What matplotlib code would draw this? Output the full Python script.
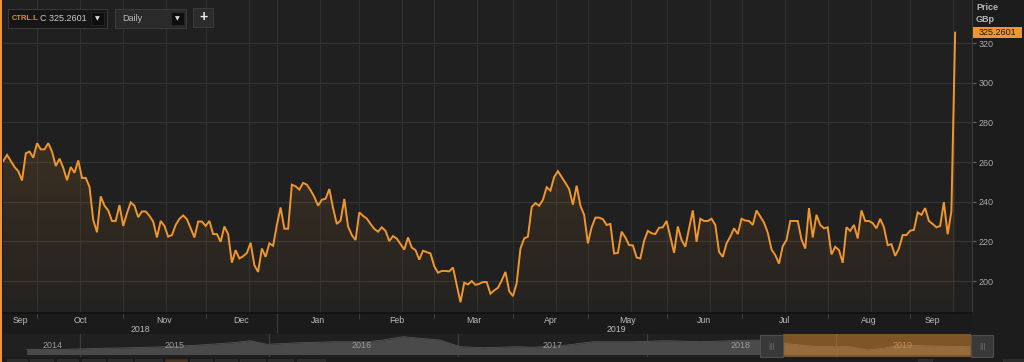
import numpy as np
import matplotlib
matplotlib.use("Agg")
import matplotlib.pyplot as plt
from matplotlib.patches import Rectangle, PathPatch

plt.rcParams['font.family'] = ['Liberation Sans', 'DejaVu Sans']

# ---------------- data ----------------
prices = [
    # Sep 2018
    260.5, 263.6, 260.5, 257.5, 255.4, 250.7, 264.4, 265.3, 262.2,
    # Oct
    269.5, 266.4, 266.4, 269.5, 265.3, 258.0, 261.7, 257.1, 250.8, 257.5, 254.6, 260.8,
    252.0, 252.0, 247.5, 230.8, 224.6, 242.7, 238.0, 235.6, 230.3, 230.3, 238.3,
    # Nov
    227.8, 234.2, 239.7, 238.0, 232.2, 235.1, 235.1, 232.9, 230.0, 222.0, 230.3, 227.8,
    222.4, 223.2, 228.3, 231.4, 233.1, 231.2, 226.6, 222.0, 230.0, 230.0,
    # Dec
    227.8, 230.3, 223.7, 223.7, 219.8, 227.5, 223.7, 209.3, 215.6, 211.4, 212.5, 214.2,
    219.3, 208.0, 204.6, 216.4, 212.2, 219.0, 217.8,
    # Jan 2019
    228.3, 237.1, 226.4, 226.4, 248.6, 247.8, 246.1, 249.5, 248.6, 245.8, 242.4, 238.0,
    241.0, 241.5, 246.4, 236.8, 228.8, 230.5, 241.4, 227.5, 223.2, 220.7,
    # Feb
    234.6, 232.9, 231.5, 228.8, 226.3, 224.9, 227.1, 225.3, 220.2, 222.7, 221.4, 218.6,
    215.9, 222.0, 216.9, 215.6, 210.8, 215.3, 214.6, 213.9,
    # Mar
    207.5, 204.2, 205.1, 205.1, 204.9, 206.8, 198.1, 189.3, 199.2, 198.3, 200.0, 198.1,
    198.6, 199.5, 199.5, 193.6, 195.3, 196.6, 200.3, 204.6, 194.9,
    # Apr
    192.4, 199.0, 216.4, 221.5, 222.4, 237.3, 239.3, 238.0, 241.0, 247.3, 245.6, 252.5,
    255.4, 252.5, 249.5, 246.4, 238.5, 248.1, 238.0, 233.4,
    # May
    219.0, 227.1, 232.0, 232.0, 231.2, 228.3, 228.8, 213.9, 214.2, 224.9, 222.0, 218.1,
    218.0, 211.9, 211.4, 220.3, 225.3, 224.1, 223.7, 226.9, 227.1,
    # Jun
    230.3, 222.4, 214.2, 227.5, 220.7, 217.3, 226.6, 235.6, 219.8, 231.4, 230.3, 230.3,
    231.4, 228.3, 214.7, 212.2, 219.0, 222.4, 226.6, 223.7,
    # Jul
    231.4, 230.5, 230.3, 228.3, 235.6, 232.5, 229.5, 224.4, 215.9, 213.1, 208.8, 217.6,
    220.7, 230.3, 230.3, 230.3, 221.0, 216.4, 236.8, 222.0, 233.4, 228.3, 226.6,
    # Aug
    227.1, 213.4, 217.3, 215.6, 209.2, 227.1, 225.3, 228.3, 221.5, 235.6, 230.3, 230.3,
    229.2, 226.6, 231.4, 227.1, 218.1, 218.6, 212.7, 216.4, 223.2, 223.2,
    # Sep
    225.4, 225.8, 234.6, 233.4, 236.8, 230.3, 228.8, 227.1, 227.8, 239.8, 223.6, 235.1,
    325.2601,
]
month_labels = ['Sep', 'Oct', 'Nov', 'Dec', 'Jan', 'Feb', 'Mar', 'Apr', 'May', 'Jun', 'Jul', 'Aug', 'Sep']
month_starts = [0, 9, 32, 54, 73, 95, 115, 136, 156, 177, 197, 220, 242]  # trading-day index
year_labels = ['2018', '2019']
year_starts = [0, 73]
y_ticks = [200, 220, 240, 260, 280, 300, 320]
last_label = '325.2601'

nav_years = [2014.715, 2014.927, 2015.103, 2015.278, 2015.458, 2015.632, 2015.807, 2015.897,
             2015.987, 2016.161, 2016.336, 2016.516, 2016.601, 2016.706, 2016.796, 2016.902,
             2017.008, 2017.130, 2017.310, 2017.394, 2017.574, 2017.712, 2017.923, 2018.103,
             2018.278, 2018.452, 2018.579, 2018.717, 2018.897, 2019.071, 2019.161, 2019.246,
             2019.336, 2019.511, 2019.706]
nav_values = [7.7, 7.7, 8.7, 9.3, 10.3, 12.0, 14.3, 16.3, 12.7, 14.3, 15.3, 15.3, 17.0, 20.3,
              18.7, 17.0, 10.3, 9.3, 10.3, 9.7, 12.0, 15.3, 15.3, 16.3, 15.3, 16.3, 17.0, 13.7,
              10.3, 10.3, 7.0, 8.7, 12.0, 11.0, 10.3]
nav_year_labels = ['2014', '2015', '2016', '2017', '2018', '2019']
nav_label_pos = [2014.854, 2015.5, 2016.49, 2017.5, 2018.49, 2019.35]

ORANGE = '#f0962f'
W, H = 1024, 362

def fx(x):
    return x / W

def fy(y):
    return 1 - y / H

fig = plt.figure(figsize=(W / 100, H / 100), dpi=100)
fig.patch.set_facecolor('#1c1c1c')

def frect(x0, y0, x1, y1, **kw):
    r = Rectangle((fx(x0), fy(y1)), fx(x1) - fx(x0), fy(y0) - fy(y1),
                  transform=fig.transFigure, **kw)
    fig.add_artist(r)
    return r

# ---------------- main axes ----------------
x = np.arange(len(prices))
ax = fig.add_axes([fx(3), fy(313), fx(972) - fx(3), fy(0) - fy(313)])
ax.set_facecolor('#202020')
XL = (-0.08, 258.5)
YL = (183.9, 341.7)

for t in y_ticks:
    ax.axhline(t, color='#343434', lw=0.9, zorder=0)
for i, s in enumerate(month_starts):
    if i > 0:
        ax.axvline(s, color='#2f2f2f', lw=0.9, zorder=0)
        ax.axvline(s + 11.5, color='#2f2f2f', lw=0.9, zorder=0)

# gradient fill under the line
poly = ax.fill_between(x, prices, YL[0], color='none', lw=0)
path = poly.get_paths()[0]
patch = PathPatch(path, transform=ax.transData, facecolor='none', edgecolor='none')
ax.add_patch(patch)
grad = np.zeros((256, 1, 4))
grad[..., :3] = matplotlib.colors.to_rgb(ORANGE)
grad[:, 0, 3] = np.linspace(0.22, 0.02, 256)
im = ax.imshow(grad, extent=[XL[0], XL[1], YL[0], YL[1]], aspect='auto', zorder=1,
               interpolation='bilinear')
im.set_clip_path(patch)

ax.plot(x, prices, color=ORANGE, lw=1.4, zorder=3, solid_joinstyle='miter')
ax.set_xlim(*XL)
ax.set_ylim(*YL)
for sp in ax.spines.values():
    sp.set_visible(False)
ax.spines['right'].set_visible(True)
ax.spines['right'].set_color('#3a3a3a')
ax.set_xticks([])
ax.yaxis.tick_right()
ax.set_yticks(y_ticks)
ax.set_yticklabels([str(t) for t in y_ticks])
ax.tick_params(axis='y', length=3, width=0.8, color='#666666', labelcolor='#aaaaaa',
               labelsize=6.5, pad=2)

# right axis header and last-value label
fig.text(fx(976), fy(7.5), 'Price', color='#b8b8b8', fontsize=6.5, fontweight='bold',
         va='center', ha='left')
fig.text(fx(976), fy(19), 'GBp', color='#b8b8b8', fontsize=6.5, fontweight='bold',
         va='center', ha='left')
frect(973, 27.5, 1022, 37.5, facecolor=ORANGE, edgecolor='none')
fig.text(fx(997.5), fy(32.7), last_label, color='#1a1a1a', fontsize=6.5, va='center', ha='center')

# ---------------- x label band ----------------
band = fig.add_axes([fx(3), fy(333), fx(972) - fx(3), fy(313) - fy(333)], sharex=ax)
band.set_facecolor('#1b1b1b')
band.set_ylim(0, 1)
for sp in band.spines.values():
    sp.set_visible(False)
band.spines['top'].set_visible(True)
band.spines['top'].set_color('#111111')
band.spines['top'].set_linewidth(1.2)
band.set_xticks([])
band.set_yticks([])
ends = month_starts[1:] + [len(prices) - 1]
for s, e, lab in zip(month_starts, ends, month_labels):
    band.text((s + e) / 2, 0.62, lab, color='#bbbbbb', fontsize=6.3, ha='center', va='center')
    if s > 0:
        band.plot([s, s], [1, 0.75], color='#3a3a3a', lw=0.8)
yends = year_starts[1:] + [len(prices) - 1]
for s, e, lab in zip(year_starts, yends, year_labels):
    band.text((s + e) / 2, 0.17, lab, color='#bbbbbb', fontsize=6.3, ha='center', va='center')
    if s > 0:
        band.plot([s, s], [1, 0], color='#3a3a3a', lw=0.9)
band.set_xlim(*XL)

# ---------------- navigator ----------------
NXL = (2014.590, 2019.717)
nav = fig.add_axes([fx(3), fy(357), fx(972) - fx(3), fy(334) - fy(357)])
nav.set_facecolor('#202020')
nav.fill_between(nav_years, 2.5, nav_values, color='#4a4a4a', lw=0, zorder=1)
nav.plot(nav_years, nav_values, color='#555555', lw=0.6, zorder=2)
for yr in [2015, 2016, 2017, 2018, 2019]:
    nav.axvline(yr, color='#3c3c3c', lw=0.9, zorder=0.5)
for lab, p in zip(nav_year_labels, nav_label_pos):
    c = '#c08a50' if lab == '2019' else '#9a9a9a'
    nav.text(p, 11.5, lab, color=c, fontsize=6.5, ha='center', va='center', zorder=5)
nav.axvspan(2018.717, 2019.711, color=ORANGE, alpha=0.45, lw=0, zorder=3)
nav.set_xlim(*NXL)
nav.set_ylim(0, 23)
nav.set_xticks([])
nav.set_yticks([])
for sp in nav.spines.values():
    sp.set_visible(False)

# navigator handles
for hx0, hx1 in [(760, 783), (971, 993)]:
    frect(hx0, 335, hx1, 357, facecolor='#393939', edgecolor='#4e4e4e', lw=0.8)
    fig.text(fx((hx0 + hx1) / 2), fy(346), '|||', color='#777777', fontsize=6,
             ha='center', va='center')

# bottom button strip
for bx0, bx1 in [(7, 27), (30, 53), (57, 78), (82, 105), (108, 132), (135, 162), (165, 187),
                 (190, 212), (215, 237), (240, 265), (268, 293), (297, 325), (918, 932),
                 (1003, 1024)]:
    c = '#4a3620' if bx0 == 165 else '#2b2b2b'
    frect(bx0, 358.5, bx1, 363, facecolor=c, edgecolor='#333333', lw=0.5)

# ---------------- top-left widgets ----------------
frect(8, 9, 107, 28, facecolor='#161616', edgecolor='#383838', lw=0.8)
fig.text(fx(12), fy(18.5), 'CTRL.L', color='#e8892a', fontsize=5.4, fontweight='bold',
         ha='left', va='center')
fig.text(fx(40.5), fy(18.5), 'C 325.2601', color='#cccccc', fontsize=6.5, ha='left', va='center')
frect(91, 12, 104, 25, facecolor='#0e0e0e', edgecolor='#2a2a2a', lw=0.5)
fig.text(fx(97.5), fy(18.3), '\u25bc', color='#dddddd', fontsize=4.5, ha='center', va='center',
         family=['DejaVu Sans'])

frect(115, 9, 186, 28, facecolor='#2a2a2a', edgecolor='#3a3a3a', lw=0.8)
fig.text(fx(122), fy(18.5), 'Daily', color='#bbbbbb', fontsize=6.5, ha='left', va='center')
frect(171, 12, 184, 25, facecolor='#0e0e0e', edgecolor='#2a2a2a', lw=0.5)
fig.text(fx(177.5), fy(18.3), '\u25bc', color='#dddddd', fontsize=4.5, ha='center', va='center',
         family=['DejaVu Sans'])

frect(193, 8, 213, 27, facecolor='#2c2c2c', edgecolor='#3a3a3a', lw=0.8)
fig.text(fx(203), fy(17), '+', color='#eeeeee', fontsize=10, fontweight='bold',
         ha='center', va='center')

# left orange border
frect(0, 0, 2, 362, facecolor=ORANGE, edgecolor='none')

fig.savefig('out.png', dpi=100, facecolor=fig.get_facecolor())
